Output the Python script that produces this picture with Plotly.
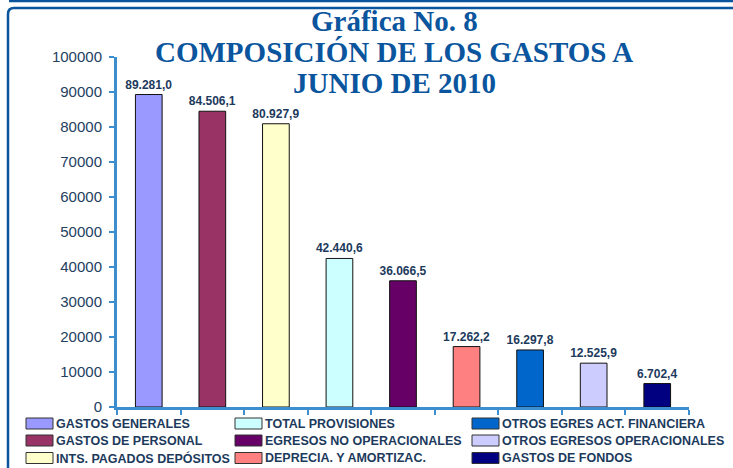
import plotly.graph_objects as go

# --- DATA ---
CATEGORIES = [
    "GASTOS GENERALES", "GASTOS DE PERSONAL", "INTS. PAGADOS DEPÓSITOS",
    "TOTAL PROVISIONES", "EGRESOS NO OPERACIONALES", "DEPRECIA. Y AMORTIZAC.",
    "OTROS EGRES ACT. FINANCIERA", "OTROS EGRESOS OPERACIONALES", "GASTOS DE FONDOS",
]
VALUES = [89281.0, 84506.1, 80927.9, 42440.6, 36066.5, 17262.2, 16297.8, 12525.9, 6702.4]
COLORS = ["#9999ff", "#993366", "#ffffcc", "#ccffff", "#660066",
          "#ff8080", "#0066cc", "#ccccff", "#000080"]
Y_TICKS = list(range(0, 100001, 10000))

# --- LAYOUT CONFIG (pixels) ---
W, H = 733, 468
L, R, T, B = 117, 44, 57, 61
PW, PH = W - L - R, H - T - B
BLUE_AXIS = "#3d8ecf"
FRAME = "#0a559d"
TEXT = "#1c3a5c"


def px(x):
    return (x - L) / PW


def py(y):
    return (H - B - y) / PH


fig = go.Figure()
for cat, val, col in zip(CATEGORIES, VALUES, COLORS):
    fig.add_trace(go.Bar(
        x=[cat], y=[val], name=cat,
        marker=dict(color=col, line=dict(color="#111111", width=1)),
        width=0.42,
        texttemplate="<b>%{y:,.1f}</b>", textposition="outside",
        constraintext="none",
        textfont=dict(family="Arial", size=12, color=TEXT),
        cliponaxis=False, showlegend=False,
    ))

shapes = []
annotations = []

# manual legend, three columns filled top to bottom
col_x = [26, 235, 472]
row_y = [423.5, 440.5, 458]
for i, (cat, col) in enumerate(zip(CATEGORIES, COLORS)):
    x0 = col_x[i // 3]
    yc = row_y[i % 3]
    shapes.append(dict(type="rect", xref="paper", yref="paper",
                       x0=px(x0), x1=px(x0 + 27), y0=py(yc + 5.5), y1=py(yc - 5.5),
                       fillcolor=col, line=dict(color="#333333", width=1)))
    annotations.append(dict(xref="paper", yref="paper", x=px(x0 + 28), y=py(yc),
                            xanchor="left", yanchor="middle", showarrow=False,
                            text=f"<b>{cat}</b>",
                            font=dict(family="Arial", size=12.5, color=TEXT)))

# title lines, tight spacing
title_lines = ["Gráfica No. 8", "COMPOSICIÓN DE LOS GASTOS A", "JUNIO DE 2010"]
title_y = [21, 52, 83]
for line, yc in zip(title_lines, title_y):
    annotations.append(dict(xref="paper", yref="paper", x=px(394), y=py(yc),
                            xanchor="center", yanchor="middle", showarrow=False,
                            text=f"<b>{line}</b>",
                            font=dict(family="Liberation Serif", size=29, color=FRAME)))

# outer frame (rounded top-left corner) and top rule
r = 6
shapes.append(dict(type="path", xref="paper", yref="paper",
                   path=(f"M {px(8)},{py(H + 10)} L {px(8)},{py(8 + r)} "
                         f"Q {px(8)},{py(8)} {px(8 + r)},{py(8)} L {px(W + 10)},{py(8)}"),
                   line=dict(color=FRAME, width=2.5)))
shapes.append(dict(type="line", xref="paper", yref="paper",
                   x0=px(9), x1=px(W + 10), y0=py(1), y1=py(1),
                   line=dict(color=FRAME, width=2.5)))

fig.update_layout(
    width=W, height=H,
    margin=dict(l=L, r=R, t=T, b=B),
    paper_bgcolor="white", plot_bgcolor="white",
    barmode="overlay",
    separators=",.",
    shapes=shapes, annotations=annotations,
    font=dict(family="Arial", color=TEXT),
)
fig.update_xaxes(
    type="category", categoryorder="array", categoryarray=CATEGORIES,
    showticklabels=False, showgrid=False, tickson="boundaries",
    ticks="outside", ticklen=5, tickwidth=2, tickcolor=BLUE_AXIS,
    showline=True, linecolor=BLUE_AXIS, linewidth=3,
)
fig.update_yaxes(
    range=[0, 100000], tickvals=Y_TICKS, tickformat="d",
    showgrid=False, zeroline=False,
    ticks="outside", ticklen=5, tickwidth=2, tickcolor=BLUE_AXIS,
    showline=True, linecolor=BLUE_AXIS, linewidth=3,
    tickfont=dict(family="Arial", size=15, color="#23405f"),
    ticklabelstandoff=4,
)

# drop the page's default body margin so the figure sits at the window's corner
fig.write_html("out.html", config={"displayModeBar": False},
               post_script="document.body.style.margin='0';")
